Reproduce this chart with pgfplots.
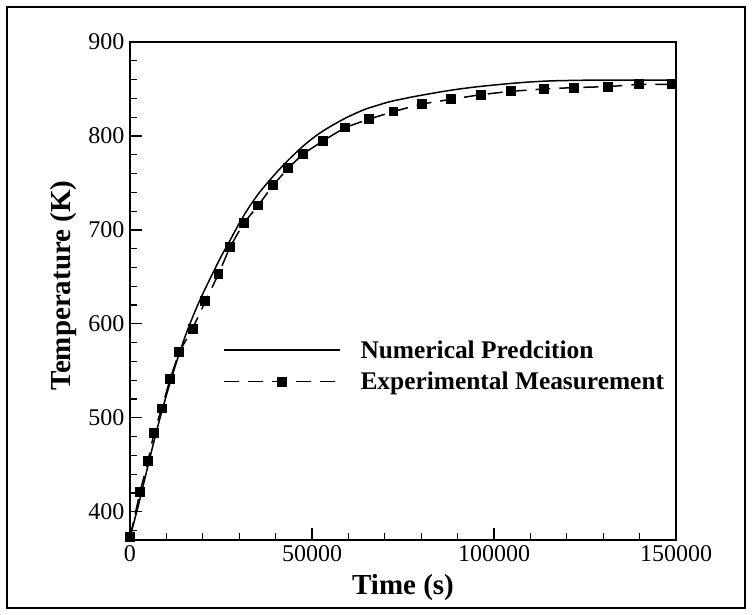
\documentclass[border=0pt]{standalone}
\usepackage{fontspec}
\setmainfont{Liberation Serif}
\usepackage{pgfplots}
\pgfplotsset{compat=1.18}
\begin{document}
\begin{tikzpicture}
\useasboundingbox (-130bp,-75bp) rectangle (622bp,540bp);
\draw[line width=1.8bp] (-123bp,-68bp) rectangle (615bp,533bp);
\begin{axis}[
  at={(0,0)}, anchor=south west,
  scale only axis, width=546bp, height=498bp,
  xmin=0, xmax=150000, ymin=370, ymax=900,
  xtick={0,50000,100000,150000},
  ytick={400,500,600,700,800,900},
  minor xtick={10000,20000,30000,40000,60000,70000,80000,90000,110000,120000,130000,140000},
  minor ytick={380,420,440,460,480,520,540,560,580,620,640,660,680,720,740,760,780,820,840,860,880},
  scaled x ticks=false,
  xticklabel style={/pgf/number format/fixed,/pgf/number format/1000 sep={}},
  /pgf/number format/assume math mode=true,
  tick align=inside, xtick pos=bottom, ytick pos=left,
  major tick length=12bp, minor tick length=7bp,
  every tick/.style={black, line width=1.2bp},
  axis line style={line width=1.6bp},
  ticklabel style={font=\fontsize{24bp}{28bp}\selectfont},
  xticklabel style={yshift=-2bp},
  yticklabel style={xshift=-2bp},
  xlabel={\textbf{Time (s)}},
  ylabel={\textbf{Temperature (K)}},
  label style={font=\fontsize{29bp}{33bp}\selectfont},
  xlabel style={at={(axis description cs:0.5,-0.096)}, anchor=center},
  ylabel style={at={(axis description cs:-0.122,0.511)}, anchor=center},
  legend cell align=left,
  legend style={draw=none, fill=none, font=\fontsize{25.4bp}{29bp}\selectfont\bfseries,
    at={(axis description cs:0.170,0.405)}, anchor=north west,
    row sep=8.5bp, inner sep=0pt, nodes={inner xsep=0bp, inner ysep=2bp},
    /tikz/every odd column/.append style={column sep=20bp}},
  legend image code/.code={\draw[mark repeat=2,mark phase=2,#1] plot coordinates {(0bp,0bp) (58bp,0bp) (116bp,0bp)};},
]
\addplot[black, line width=1.5bp, smooth] coordinates {
(0,373) (2500,410) (5000,450) (7500,489) (10000,524) (12500,556) (15000,585)
(17500,610) (20000,632) (22500,652) (25000,671.5) (27500,689) (30000,707)
(32500,723) (35000,737) (37500,749) (40000,760) (42500,770.5) (45000,780)
(47500,789) (50000,797) (52500,804) (55000,810) (57500,815.5) (60000,820.5)
(62500,825) (65000,829) (67500,832) (70000,835) (72500,837.5) (75000,839.5)
(77500,841.5) (80000,843.3) (85000,846.7) (90000,849.7) (95000,852.2)
(100000,854.2) (105000,856) (110000,857.5) (115000,858.5) (120000,859)
(130000,859.5) (150000,859.5)
};
\addlegendentry{Numerical Predcition}
\addplot[black, line width=1.5bp, dash pattern=on 15bp off 9bp, mark=square*, mark size=4.2bp, mark options={solid}] coordinates {
(0,373) (2750,421) (4950,454) (6600,484) (8700,510) (11000,541) (13500,570)
(17200,595) (20700,624) (24300,653) (27500,682) (31200,707) (35200,726)
(39400,748) (43500,766) (47600,781) (53100,795) (59100,809) (65700,818)
(72400,826) (80100,834) (88200,839) (96400,844) (104600,847.5) (113700,850)
(122000,851.5) (131400,852.5) (139900,855) (149000,855)
};
\addlegendentry{Experimental Measurement}
\end{axis}
\end{tikzpicture}
\end{document}
